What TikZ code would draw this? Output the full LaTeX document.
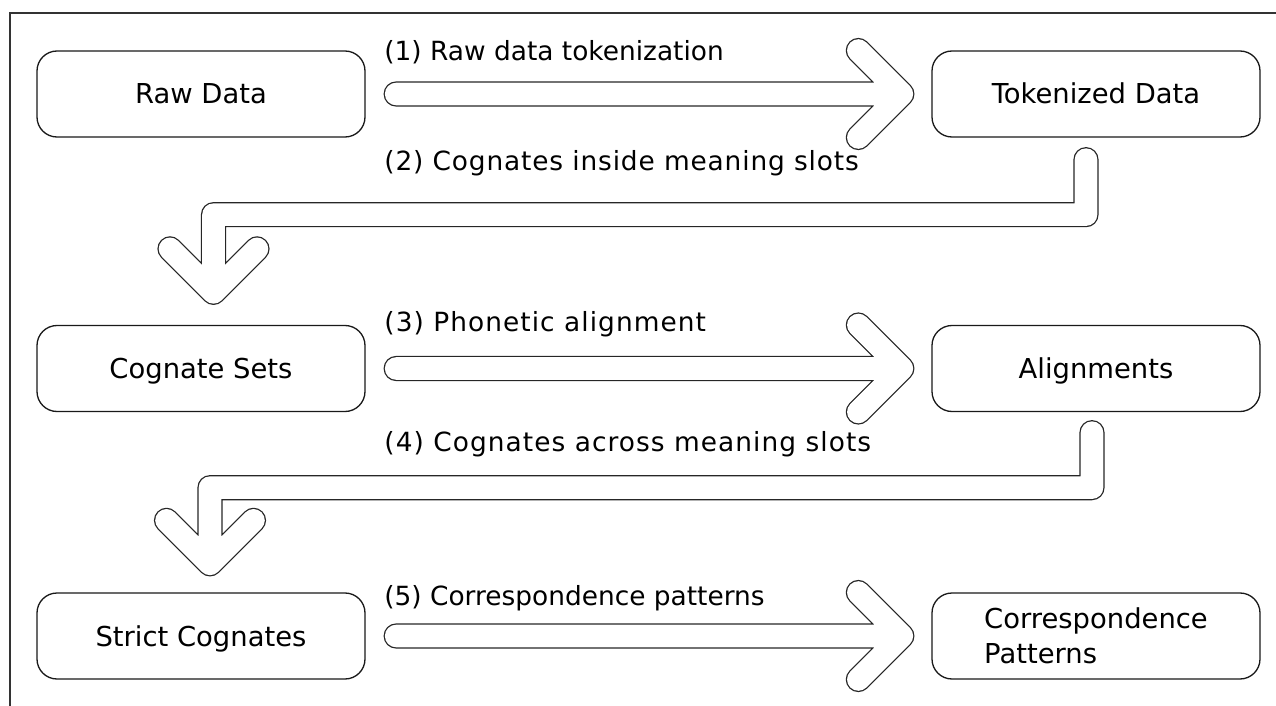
\documentclass[tikz,border=0pt]{standalone}
\usepackage{fontspec}
\setmainfont{DejaVu Sans}
\usetikzlibrary{calc}
\begin{document}
\begin{tikzpicture}[x=0.5pt,y=-0.5pt,
  boxbase/.style={draw=black!90, rounded corners=10pt, line width=0.65pt,
    minimum width=164pt, minimum height=43pt, inner sep=0pt},
  box/.style={boxbase, font=\fontsize{13.7}{16}\selectfont, text height=10pt, text depth=0pt},
  boxtwo/.style={boxbase, align=left, font=\fontsize{13.7}{17.5}\selectfont},
  lbl/.style={anchor=base west, inner sep=0pt, font=\fontsize{13.2}{16}\selectfont},
  fat/.style={draw=white, line width=11.3pt, line cap=round, line join=round,
    preaction={draw=black!85, line width=12.6pt, line cap=round, line join=round}},
  frame/.style={draw=black!80, line width=0.65pt}]
\useasboundingbox (0,0) rectangle (1276,706);
\draw[frame] (1276,13) -- (10,13) -- (10,706);

\node[box] (raw) at (201,94) {Raw Data};
\node[box] (tok) at (1096,94) {Tokenized Data};
\node[box] (cog) at (201,368.5) {Cognate Sets};
\node[box] (ali) at (1096,368.5) {Alignments};
\node[box] (str) at (201,636) {Strict Cognates};
\node[boxtwo] (cor) at (1096,636) {Correspondence\\Patterns};

% arrow 1
\coordinate (a1s) at ($(raw.east)+(30.5,0)$);
\coordinate (a1t) at ($(tok.west)+(-29.5,0)$);
\path[fat] (a1s) -- (a1t) ($(a1t)+(-43.5,-43.5)$) -- (a1t) -- ($(a1t)+(-43.5,43.5)$);
% arrow 3
\coordinate (a3s) at ($(cog.east)+(30.5,0)$);
\coordinate (a3t) at ($(ali.west)+(-29.5,0)$);
\path[fat] (a3s) -- (a3t) ($(a3t)+(-43.5,-43.5)$) -- (a3t) -- ($(a3t)+(-43.5,43.5)$);
% arrow 5
\coordinate (a5s) at ($(str.east)+(30.5,0)$);
\coordinate (a5t) at ($(cor.west)+(-29.5,0)$);
\path[fat] (a5s) -- (a5t) ($(a5t)+(-43.5,-43.5)$) -- (a5t) -- ($(a5t)+(-43.5,43.5)$);
% arrow 2
\coordinate (a2s) at ($(tok.south)+(-10,22)$);
\coordinate (a2m) at ($(tok.south)+(0,77)$);
\coordinate (a2t) at ($(cog.north)+(12.5,-32.5)$);
\path[fat] (a2s) -- (a2s |- a2m) -- (a2t |- a2m) -- (a2t)
  ($(a2t)+(-43.5,-43.5)$) -- (a2t) -- ($(a2t)+(43.5,-43.5)$);
% arrow 4
\coordinate (a4s) at ($(ali.south)+(-4,20.5)$);
\coordinate (a4m) at ($(ali.south)+(0,75.5)$);
\coordinate (a4t) at ($(str.north)+(9,-28.5)$);
\path[fat] (a4s) -- (a4s |- a4m) -- (a4t |- a4m) -- (a4t)
  ($(a4t)+(-43.5,-43.5)$) -- (a4t) -- ($(a4t)+(43.5,-43.5)$);

\node[lbl] (l1) at (384,61) {(1) Raw data tokenization};
\node[lbl] (l2) at (384,171) {\addfontfeatures{LetterSpace=3.2}(2) Cognates inside meaning slots};
\node[lbl] (l3) at (384,331) {\addfontfeatures{LetterSpace=4}(3) Phonetic alignment};
\node[lbl] (l4) at (384,451) {\addfontfeatures{LetterSpace=4}(4) Cognates across meaning slots};
\node[lbl] (l5) at (384,605) {(5) Correspondence patterns};
\end{tikzpicture}
\end{document}
